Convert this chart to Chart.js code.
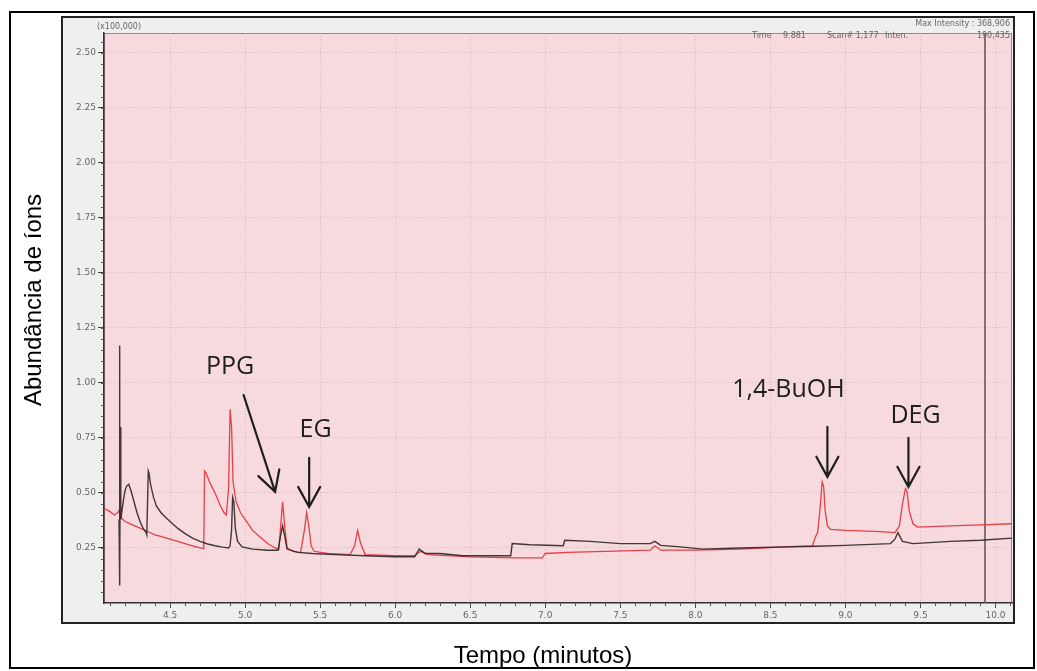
<!DOCTYPE html>
<html><head><meta charset="utf-8">
<script src="https://cdn.jsdelivr.net/npm/chart.js@4.4.1/dist/chart.umd.min.js"></script>
<style>html,body{margin:0;padding:0;background:#fff;}#wrap{width:1037px;height:671px;}canvas{display:block;}</style>
</head><body><div id="wrap"><canvas id="c" width="1037" height="671"></canvas></div>
<script>
// ---- data (time in minutes, abundance in x100,000) ----
const blackTime = [4.160,4.163,4.166,4.169,4.172,4.18,4.19,4.20,4.21,4.225,4.24,4.26,4.28,4.30,4.32,4.34,4.345,4.35,4.355,4.36,4.37,4.39,4.41,4.44,4.47,4.50,4.55,4.60,4.65,4.70,4.75,4.80,4.85,4.89,4.90,4.91,4.917,4.925,4.935,4.95,4.98,5.05,5.15,5.22,5.235,5.25,5.265,5.28,5.35,5.45,5.60,5.80,6.00,6.13,6.16,6.20,6.30,6.45,6.60,6.77,6.78,6.90,7.12,7.13,7.30,7.50,7.70,7.73,7.77,7.90,8.05,8.30,8.60,8.80,9.00,9.30,9.33,9.35,9.38,9.45,9.70,9.90,10.11];
const blackAbund = [0.38,1.17,0.08,0.80,0.38,0.42,0.47,0.51,0.53,0.54,0.51,0.46,0.41,0.37,0.34,0.32,0.31,0.45,0.60,0.59,0.54,0.48,0.44,0.41,0.39,0.37,0.34,0.315,0.295,0.28,0.268,0.26,0.254,0.25,0.26,0.33,0.48,0.46,0.34,0.28,0.255,0.245,0.24,0.24,0.30,0.35,0.30,0.245,0.23,0.225,0.22,0.215,0.21,0.21,0.245,0.225,0.225,0.215,0.215,0.215,0.27,0.265,0.26,0.285,0.28,0.27,0.27,0.28,0.262,0.255,0.245,0.25,0.255,0.258,0.262,0.27,0.29,0.32,0.28,0.27,0.28,0.285,0.295];
const redTime = [4.06,4.10,4.13,4.15,4.16,4.17,4.20,4.25,4.30,4.35,4.40,4.45,4.50,4.55,4.60,4.65,4.70,4.725,4.73,4.74,4.77,4.80,4.83,4.86,4.875,4.89,4.90,4.91,4.92,4.94,4.97,5.00,5.05,5.10,5.15,5.20,5.225,5.235,5.25,5.265,5.28,5.32,5.37,5.395,5.41,5.425,5.44,5.46,5.55,5.70,5.73,5.75,5.77,5.80,6.00,6.13,6.17,6.22,6.50,6.80,6.98,7.00,7.15,7.40,7.70,7.73,7.77,8.00,8.30,8.60,8.78,8.80,8.815,8.83,8.845,8.855,8.865,8.88,8.90,9.00,9.20,9.33,9.36,9.38,9.40,9.41,9.425,9.45,9.48,9.70,9.90,10.11];
const redAbund = [0.43,0.415,0.40,0.41,0.42,0.39,0.37,0.355,0.34,0.325,0.31,0.30,0.29,0.28,0.27,0.26,0.25,0.248,0.60,0.59,0.54,0.50,0.45,0.41,0.40,0.52,0.88,0.80,0.55,0.46,0.41,0.38,0.33,0.30,0.27,0.25,0.245,0.33,0.46,0.34,0.25,0.235,0.23,0.33,0.41,0.35,0.26,0.235,0.225,0.22,0.26,0.33,0.27,0.22,0.215,0.215,0.235,0.22,0.21,0.205,0.205,0.225,0.23,0.235,0.24,0.26,0.24,0.24,0.245,0.255,0.26,0.30,0.32,0.42,0.55,0.53,0.42,0.35,0.335,0.33,0.325,0.32,0.35,0.45,0.52,0.51,0.42,0.36,0.345,0.35,0.355,0.36];
const cursorTime = 9.93;
const xTickValues = [4.5,5.0,5.5,6.0,6.5,7.0,7.5,8.0,8.5,9.0,9.5,10.0];
const yTickValues = [0.25,0.50,0.75,1.00,1.25,1.50,1.75,2.00,2.25,2.50];
const xRange = [4.06, 10.11];
const yRange = [0, 2.59];
const peakLabels = ['PPG','EG','1,4-BuOH','DEG'];
const labelAt = [[4.90,1.04],[5.47,0.755],[8.62,0.936],[9.467,0.818]];
const arrowFrom = [[4.99,0.945],[5.427,0.659],[8.88,0.80],[9.42,0.75]];
const arrowTo = [[5.20,0.505],[5.427,0.436],[8.88,0.573],[9.42,0.527]];

const toPts = (t, a) => t.map((v, i) => ({x: v, y: a[i]}));

const framePlugin = {
  id: 'frame',
  beforeDraw(chart) {
    const {ctx, chartArea: a} = chart;
    ctx.save();
    ctx.fillStyle = '#fff';
    ctx.fillRect(0, 0, chart.width, chart.height);
    ctx.strokeStyle = '#000'; ctx.lineWidth = 2;
    ctx.strokeRect(10, 12, 1024, 656);
    ctx.fillStyle = '#efefef';
    ctx.fillRect(62, 17, 952, 606);
    ctx.strokeStyle = '#222'; ctx.lineWidth = 2;
    ctx.strokeRect(62, 17, 952, 606);
    ctx.fillStyle = '#f7dadd';
    ctx.fillRect(a.left, a.top, a.right - a.left, a.bottom - a.top);
    ctx.strokeStyle = '#9a8585'; ctx.lineWidth = 1;
    ctx.strokeRect(a.left + 0.5, a.top + 0.5, a.right - a.left - 1, a.bottom - a.top - 1);
    ctx.restore();
  },
  afterDraw(chart) {
    const {ctx, chartArea: a, scales: {x, y}} = chart;
    ctx.save();
    // minor ticks
    ctx.strokeStyle = '#555'; ctx.lineWidth = 1;
    ctx.beginPath();
    for (let k = 41; k <= 101; k++) {
      const v = k / 10; if (v < xRange[0] || v > xRange[1]) continue;
      const px = Math.round(x.getPixelForValue(v)) + 0.5;
      ctx.moveTo(px, a.bottom); ctx.lineTo(px, a.bottom + 3);
    }
    for (let k = 1; k <= 51; k++) {
      const v = k * 0.05; if (v > yRange[1]) continue;
      const py = Math.round(y.getPixelForValue(v)) + 0.5;
      ctx.moveTo(a.left, py); ctx.lineTo(a.left - 3, py);
    }
    ctx.stroke();
    // annotations
    ctx.fillStyle = '#1e1e1e';
    ctx.font = '25px "Open Sans"';
    ctx.textAlign = 'center'; ctx.textBaseline = 'alphabetic';
    peakLabels.forEach((t, i) => {
      ctx.fillText(t, x.getPixelForValue(labelAt[i][0]), y.getPixelForValue(labelAt[i][1]));
    });
    ctx.strokeStyle = '#1e1e1e'; ctx.lineWidth = 2.2; ctx.lineCap = 'round';
    arrowFrom.forEach((f, i) => {
      const x1 = x.getPixelForValue(f[0]), y1 = y.getPixelForValue(f[1]);
      const x2 = x.getPixelForValue(arrowTo[i][0]), y2 = y.getPixelForValue(arrowTo[i][1]);
      const ang = Math.atan2(y2 - y1, x2 - x1);
      ctx.beginPath();
      ctx.moveTo(x1, y1); ctx.lineTo(x2, y2);
      const L = 23, w = 0.5;
      ctx.moveTo(x2 - L * Math.cos(ang - w), y2 - L * Math.sin(ang - w));
      ctx.lineTo(x2, y2);
      ctx.lineTo(x2 - L * Math.cos(ang + w), y2 - L * Math.sin(ang + w));
      ctx.stroke();
    });
    // header texts
    ctx.fillStyle = '#666'; ctx.font = '8px "DejaVu Sans"'; ctx.textBaseline = 'middle';
    ctx.textAlign = 'left';
    ctx.fillText('(x100,000)', 97, 27);
    ctx.textAlign = 'right';
    ctx.fillText('Max Intensity : 368,906', 1010, 24);
    ctx.fillText('190,435', 1010, 36);
    ctx.textAlign = 'left';
    ctx.fillText('Time', 752, 36);
    ctx.fillText('9.881', 783, 36);
    ctx.fillText('Scan# 1,177', 827, 36);
    ctx.fillText('Inten.', 885, 36);
    // axis titles
    ctx.fillStyle = '#000'; ctx.font = '24px "Liberation Sans"';
    ctx.textAlign = 'center'; ctx.textBaseline = 'alphabetic';
    ctx.fillText('Tempo (minutos)', 543, 663);
    ctx.textBaseline = 'middle';
    ctx.translate(34, 300); ctx.rotate(-Math.PI / 2);
    ctx.fillText('Abundância de íons', 0, 0);
    ctx.restore();
  }
};

new Chart(document.getElementById('c'), {
  type: 'scatter',
  data: {
    datasets: [
      {label: 'black', data: toPts(blackTime, blackAbund), showLine: true, borderColor: 'rgba(45,35,35,0.9)', borderWidth: 1.4, pointRadius: 0, tension: 0},
      {label: 'red', data: toPts(redTime, redAbund), showLine: true, borderColor: 'rgba(228,55,65,0.95)', borderWidth: 1.3, pointRadius: 0, tension: 0},
      {label: 'cursor', data: [{x: cursorTime, y: yRange[0]}, {x: cursorTime, y: yRange[1]}], showLine: true, borderColor: '#6a5a5a', borderWidth: 1.6, pointRadius: 0}
    ]
  },
  options: {
    responsive: false, animation: false, devicePixelRatio: 1,
    layout: {padding: {left: 0, top: 33, right: 25, bottom: 0}},
    plugins: {legend: {display: false}, tooltip: {enabled: false}, title: {display: false}},
    scales: {
      x: {
        type: 'linear', min: xRange[0], max: xRange[1],
        afterBuildTicks: s => { s.ticks = xTickValues.map(v => ({value: v})); },
        afterFit: s => { s.height = 68; },
        ticks: {callback: v => Number(v).toFixed(1), font: {size: 9, family: 'DejaVu Sans'}, color: '#666', padding: 2, maxRotation: 0, autoSkip: false},
        grid: {color: 'rgba(190,160,165,0.6)', lineWidth: 1, tickColor: '#444', tickLength: 5},
        border: {display: true, color: '#333', width: 1.5, dash: [1, 2]}
      },
      y: {
        type: 'linear', min: yRange[0], max: yRange[1],
        afterBuildTicks: s => { s.ticks = yTickValues.map(v => ({value: v})); },
        afterFit: s => { s.width = 104; },
        ticks: {callback: v => Number(v).toFixed(2), font: {size: 9, family: 'DejaVu Sans'}, color: '#666', padding: 2, autoSkip: false},
        grid: {color: 'rgba(190,160,165,0.6)', lineWidth: 1, tickColor: '#444', tickLength: 6},
        border: {display: true, color: '#333', width: 1.5, dash: [1, 2]}
      }
    }
  },
  plugins: [framePlugin]
});
</script></body></html>
